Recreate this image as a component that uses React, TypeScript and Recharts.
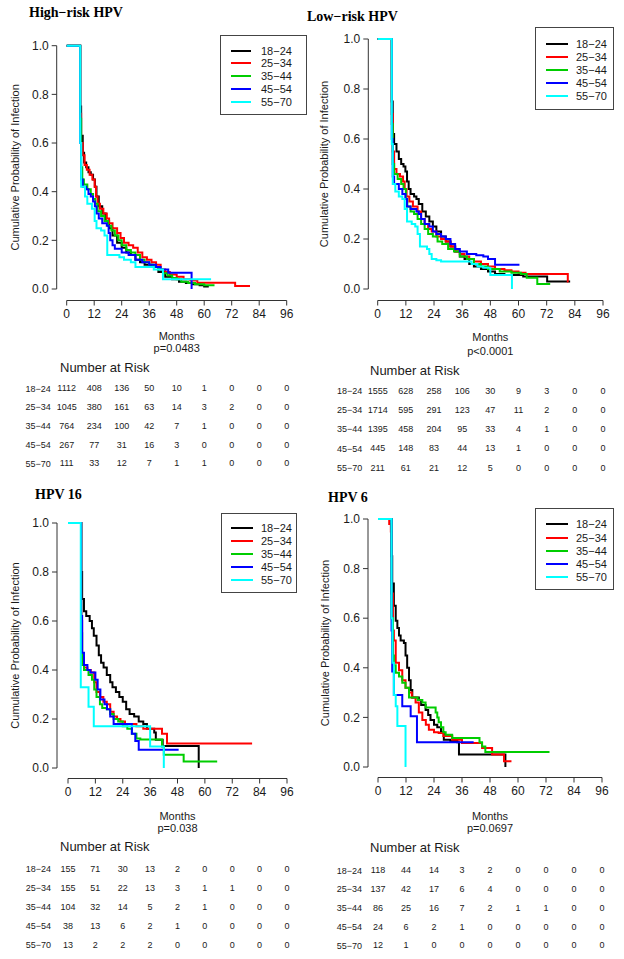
import React from 'react';
import { LineChart, Line, XAxis, YAxis, ReferenceLine, ScatterChart, Scatter } from 'recharts';

const groups = ['18−24', '25−34', '35−44', '45−54', '55−70'];
const colors = ['#000000', '#ff0000', '#00cd00', '#0000ff', '#00ffff'];
const monthTicks = [0, 12, 24, 36, 48, 60, 72, 84, 96];
const probTicks = [0, 0.2, 0.4, 0.6, 0.8, 1];

// curves as [month, cumulative probability], the value holds until the next point
const hr1824 = [[0, 1], [5.6, 1], [5.9, 0.75], [6.3, 0.63], [7, 0.56], [7.6, 0.52], [8.5, 0.5], [9.5, 0.48], [10.5, 0.47], [11.5, 0.45], [12.3, 0.42], [13, 0.38], [14, 0.34], [15.5, 0.31], [17, 0.28], [18.5, 0.25], [20, 0.22], [22, 0.19], [24, 0.17], [26, 0.15], [28, 0.14], [30, 0.12], [32, 0.11], [34, 0.1], [37, 0.09], [40, 0.07], [43, 0.05], [46, 0.04], [49, 0.03], [52, 0.025], [55, 0.02], [58, 0.015], [60, 0.01], [62, 0.01]];
const hr2534 = [[0, 1], [5.6, 1], [5.9, 0.72], [6.3, 0.6], [7, 0.55], [7.8, 0.51], [8.8, 0.49], [10, 0.47], [11.2, 0.45], [12.2, 0.42], [12.8, 0.38], [13.5, 0.35], [14.5, 0.33], [16, 0.31], [17.5, 0.29], [18.5, 0.27], [20, 0.25], [22, 0.23], [23.5, 0.21], [25, 0.19], [27, 0.18], [29, 0.17], [31, 0.15], [33, 0.13], [35, 0.12], [37, 0.11], [39, 0.1], [41, 0.08], [43, 0.07], [45, 0.06], [48, 0.05], [51, 0.04], [54, 0.035], [57, 0.026], [73.5, 0.012], [80, 0.012]];
const hr3544 = [[0, 1], [5.6, 1], [5.9, 0.7], [6.3, 0.5], [6.8, 0.45], [7.5, 0.43], [9, 0.41], [10.5, 0.39], [11.5, 0.37], [12.5, 0.35], [13.5, 0.32], [15, 0.3], [16.5, 0.28], [18, 0.26], [19.5, 0.24], [21, 0.22], [22.5, 0.2], [24, 0.18], [26, 0.16], [28, 0.15], [30, 0.14], [32, 0.12], [34, 0.11], [36, 0.1], [38, 0.09], [40, 0.08], [42, 0.065], [44, 0.055], [46, 0.045], [48, 0.04], [50, 0.03], [53, 0.025], [56, 0.02], [60, 0.015], [64.5, 0.015]];
const hr4554 = [[0, 1], [5.6, 1], [5.9, 0.6], [6.3, 0.45], [7, 0.42], [8.5, 0.41], [9.5, 0.39], [10.5, 0.38], [11.5, 0.36], [12.3, 0.34], [13, 0.31], [14, 0.29], [15.5, 0.27], [17.5, 0.26], [18.3, 0.23], [19, 0.2], [20, 0.18], [21, 0.165], [24, 0.15], [27, 0.14], [30, 0.12], [33, 0.11], [36, 0.1], [39, 0.09], [41, 0.08], [44.3, 0.067], [54.5, 0]];
const hr5570 = [[0, 1], [5.6, 1], [5.9, 0.6], [6.3, 0.42], [8, 0.38], [9, 0.35], [11, 0.33], [12.2, 0.28], [13, 0.25], [15, 0.24], [16.5, 0.22], [17.7, 0.14], [23, 0.13], [25, 0.12], [28, 0.11], [30, 0.09], [38, 0.08], [42, 0.04], [63, 0.04]];

const lr1824 = [[0, 1], [5.7, 1], [6, 0.75], [6.4, 0.62], [7, 0.58], [8, 0.55], [9, 0.52], [10, 0.5], [11, 0.49], [11.8, 0.47], [12.5, 0.43], [13.2, 0.4], [14, 0.38], [15.5, 0.37], [16.5, 0.36], [17.5, 0.34], [19, 0.31], [20.5, 0.29], [22, 0.27], [23.5, 0.25], [25, 0.23], [27, 0.21], [29, 0.19], [31, 0.17], [33, 0.15], [35, 0.13], [37, 0.12], [39, 0.1], [41, 0.09], [44, 0.08], [47, 0.07], [50, 0.06], [54, 0.056], [62, 0.05], [72.2, 0.03], [82, 0.03]];
const lr2534 = [[0, 1], [5.7, 1], [6, 0.7], [6.4, 0.55], [7, 0.48], [8, 0.46], [9.5, 0.45], [10.8, 0.43], [11.5, 0.4], [12.3, 0.37], [13.5, 0.35], [15, 0.33], [17, 0.31], [18.5, 0.28], [20, 0.26], [21.5, 0.24], [23, 0.23], [25, 0.21], [27, 0.2], [29, 0.19], [31, 0.17], [33, 0.15], [35, 0.14], [37, 0.13], [39, 0.12], [41, 0.11], [44, 0.1], [47, 0.09], [50, 0.08], [54, 0.075], [57, 0.07], [60, 0.065], [63, 0.06], [81, 0.03], [81.3, 0.03]];
const lr3544 = [[0, 1], [5.7, 1], [6, 0.66], [6.4, 0.5], [7, 0.46], [8.5, 0.44], [10, 0.42], [11, 0.4], [12, 0.36], [12.6, 0.33], [14, 0.31], [15.5, 0.3], [17, 0.28], [18.5, 0.26], [20, 0.24], [21.5, 0.22], [23.5, 0.21], [25.5, 0.19], [27.5, 0.18], [30, 0.16], [32.5, 0.15], [35, 0.13], [38, 0.12], [41, 0.1], [44, 0.09], [47, 0.08], [52, 0.07], [57, 0.065], [61, 0.06], [63.5, 0.045], [68, 0.02], [73.5, 0.02]];
const lr4554 = [[0, 1], [5.7, 1], [6, 0.6], [6.4, 0.45], [7, 0.42], [9, 0.4], [10.5, 0.38], [11.8, 0.36], [12.5, 0.33], [14, 0.32], [16.5, 0.31], [17.5, 0.3], [18.5, 0.28], [20, 0.26], [22, 0.25], [23.5, 0.23], [25, 0.22], [27, 0.21], [29, 0.2], [31, 0.18], [33, 0.16], [35, 0.15], [38, 0.14], [42, 0.135], [45, 0.13], [47, 0.12], [50, 0.097], [60.4, 0.097]];
const lr5570 = [[0, 1], [5.7, 1], [6, 0.58], [6.4, 0.42], [7.5, 0.39], [9, 0.37], [10.5, 0.36], [11.5, 0.32], [12.5, 0.27], [14.5, 0.26], [16, 0.25], [17, 0.22], [18, 0.17], [21, 0.16], [22, 0.14], [23, 0.12], [25, 0.115], [27, 0.11], [40, 0.1], [42.5, 0.09], [45, 0.085], [48, 0.056], [57.2, 0]];

const h16_1824 = [[0, 1], [5.5, 1], [5.8, 0.8], [6.2, 0.69], [7, 0.64], [8, 0.62], [9.5, 0.6], [10.5, 0.57], [11.3, 0.54], [12.5, 0.5], [13.5, 0.46], [14.5, 0.43], [15.6, 0.41], [17, 0.38], [18.5, 0.35], [19.5, 0.33], [21, 0.31], [22.5, 0.29], [24, 0.27], [25.5, 0.24], [27, 0.22], [29, 0.21], [31, 0.19], [33, 0.18], [34.6, 0.16], [37.8, 0.145], [38.5, 0.115], [41.5, 0.09], [57.3, 0]];
const h16_2534 = [[0, 1], [5.5, 1], [5.8, 0.6], [6.2, 0.45], [7, 0.41], [8.5, 0.4], [10, 0.39], [11.5, 0.35], [12.5, 0.31], [14, 0.29], [15.5, 0.27], [17, 0.26], [18.5, 0.23], [20, 0.21], [21.5, 0.2], [23, 0.19], [25, 0.18], [30, 0.17], [33, 0.16], [41.2, 0.14], [43.4, 0.1], [80.7, 0.1]];
const h16_3544 = [[0, 1], [5.5, 1], [5.8, 0.55], [6.2, 0.42], [7, 0.4], [9, 0.38], [10.5, 0.36], [11.5, 0.32], [12.5, 0.29], [14, 0.26], [15, 0.245], [17, 0.24], [18.5, 0.22], [20, 0.2], [22, 0.19], [24, 0.17], [26, 0.16], [28, 0.14], [30, 0.12], [31.7, 0.116], [41.2, 0.088], [42, 0.054], [50.7, 0.027], [65.4, 0.027]];
const h16_4554 = [[0, 1], [5.5, 1], [5.8, 0.62], [6.2, 0.47], [7, 0.42], [8.5, 0.4], [9.8, 0.39], [12, 0.36], [13, 0.32], [14.2, 0.28], [16, 0.26], [17.1, 0.24], [18.5, 0.21], [20, 0.18], [28, 0.14], [29.5, 0.11], [31, 0.075], [48.5, 0.075]];
const h16_5570 = [[0, 1], [5.5, 1], [5.6, 0.33], [9, 0.25], [11.3, 0.17], [36, 0.088], [42, 0]];

const h6_1824 = [[0, 1], [5.5, 1], [5.8, 0.85], [6.1, 0.74], [6.8, 0.65], [7.6, 0.59], [8.3, 0.56], [9, 0.53], [9.7, 0.51], [11.1, 0.5], [11.8, 0.45], [12.5, 0.4], [13.3, 0.35], [14, 0.31], [14.7, 0.28], [17.5, 0.27], [18.5, 0.25], [20.4, 0.23], [21.5, 0.21], [22.5, 0.19], [24, 0.17], [25.4, 0.16], [27, 0.14], [28.2, 0.11], [31, 0.105], [34, 0.1], [34.7, 0.05], [54.6, 0]];
const h6_2534 = [[0, 1], [4.8, 0.98], [5.5, 0.95], [5.8, 0.7], [6.4, 0.55], [6.8, 0.51], [7.6, 0.42], [9, 0.39], [10.4, 0.35], [11.8, 0.32], [13.3, 0.3], [14.5, 0.28], [16.1, 0.26], [17.5, 0.22], [19, 0.19], [20.5, 0.17], [21.8, 0.15], [24, 0.14], [26, 0.137], [28, 0.125], [31.8, 0.11], [36, 0.097], [44.6, 0.077], [48.9, 0.05], [54, 0.023], [57.2, 0.023]];
const h6_3544 = [[0, 1], [5.5, 1], [5.8, 0.6], [6.4, 0.45], [6.8, 0.41], [7.6, 0.38], [9, 0.365], [10.4, 0.34], [11.8, 0.32], [13.3, 0.28], [17, 0.27], [19, 0.26], [20.4, 0.24], [24.7, 0.22], [25.4, 0.2], [26, 0.18], [27, 0.16], [28, 0.14], [29, 0.13], [31.8, 0.117], [43.5, 0.1], [44.6, 0.083], [46, 0.06], [73.5, 0.06]];
const h6_4554 = [[0, 1], [5.5, 1], [5.8, 0.55], [6.1, 0.385], [6.8, 0.29], [10.4, 0.245], [14, 0.205], [16.7, 0.1], [41, 0.1]];
const h6_5570 = [[0, 1], [5.5, 1], [5.8, 0.6], [6.2, 0.42], [6.8, 0.29], [7.6, 0.245], [8.3, 0.165], [11.8, 0]];

// number at risk, rows follow groups, columns follow monthTicks
const hrRisk = [
  [1112, 408, 136, 50, 10, 1, 0, 0, 0],
  [1045, 380, 161, 63, 14, 3, 2, 0, 0],
  [764, 234, 100, 42, 7, 1, 0, 0, 0],
  [267, 77, 31, 16, 3, 0, 0, 0, 0],
  [111, 33, 12, 7, 1, 1, 0, 0, 0],
];
const lrRisk = [
  [1555, 628, 258, 106, 30, 9, 3, 0, 0],
  [1714, 595, 291, 123, 47, 11, 2, 0, 0],
  [1395, 458, 204, 95, 33, 4, 1, 0, 0],
  [445, 148, 83, 44, 13, 1, 0, 0, 0],
  [211, 61, 21, 12, 5, 0, 0, 0, 0],
];
const h16Risk = [
  [155, 71, 30, 13, 2, 0, 0, 0, 0],
  [155, 51, 22, 13, 3, 1, 1, 0, 0],
  [104, 32, 14, 5, 2, 1, 0, 0, 0],
  [38, 13, 6, 2, 1, 0, 0, 0, 0],
  [13, 2, 2, 2, 0, 0, 0, 0, 0],
];
const h6Risk = [
  [118, 44, 14, 3, 2, 0, 0, 0, 0],
  [137, 42, 17, 6, 4, 0, 0, 0, 0],
  [86, 25, 16, 7, 2, 1, 1, 0, 0],
  [24, 6, 2, 1, 0, 0, 0, 0, 0],
  [12, 1, 0, 0, 0, 0, 0, 0, 0],
];

const sans = '"Liberation Sans", Arial, sans-serif';
const serif = '"Liberation Serif", "Times New Roman", serif';
const ink = '#1a1a1a';

const toPts = (a: number[][]) => a.map(([t, s]) => ({ t, s }));

function Panel(p: any) {
  const { ox, oy, x0, x96, y0, y1, ax, ay } = p.g;
  const ppm = (x96 - x0) / 96;
  const ppu = y0 - y1;
  const padX = (x0 - ax) / ppm;
  const padY = (ay - y0) / ppu;
  const xDom = [-padX, 96 + padX];
  const yDom = [-padY, 1 + padY];
  const L = ax;
  const R = x96 + (x0 - ax);
  const T = y1 - (ay - y0);
  const B = ay;
  const yW = 40;
  const chartH = B - oy + 60;
  const margin = { top: T - oy, right: ox + 312 - R, bottom: 0, left: L - ox - yW };
  const midX = (x0 + x96) / 2 - ox;
  const labY = (T + B) / 2 - oy;
  const labX = p.yLabelX - ox;

  const tableTop = p.rowY0 - p.rowStep / 2;
  const cells = p.risk.flatMap((row: number[], r: number) =>
    row.map((n, c) => ({ t: monthTicks[c], row: r, n }))
  );

  return (
    <>
      <div style={{ position: 'absolute', left: ox, top: oy }}>
        <LineChart width={312} height={chartH} margin={margin}>
          <XAxis
            type="number"
            dataKey="t"
            domain={xDom}
            ticks={monthTicks}
            allowDataOverflow
            axisLine={false}
            tickSize={5}
            tickMargin={4}
            tickLine={{ stroke: '#333' }}
            tick={{ fontSize: 12, fill: ink, fontFamily: sans }}
            height={60}
            label={() => (
              <g>
                <text x={midX} y={p.monthsY - oy} textAnchor="middle" dominantBaseline="central" fontSize={11} fill={ink} fontFamily={sans}>Months</text>
                <text x={midX} y={p.pY - oy} textAnchor="middle" dominantBaseline="central" fontSize={11} fill={ink} fontFamily={sans}>{p.pText}</text>
              </g>
            )}
          />
          <YAxis
            type="number"
            domain={yDom}
            ticks={probTicks}
            allowDataOverflow
            width={yW}
            axisLine={false}
            tickSize={5}
            tickMargin={3}
            tickLine={{ stroke: '#333' }}
            tickFormatter={(v: number) => v.toFixed(1)}
            tick={{ fontSize: 12, fill: ink, fontFamily: sans }}
            label={() => (
              <text
                x={labX}
                y={labY}
                transform={`rotate(-90 ${labX} ${labY})`}
                textAnchor="middle"
                dominantBaseline="central"
                fontSize={11}
                fill={ink}
                fontFamily={sans}
              >
                Cumulative Probability of Infection
              </text>
            )}
          />
          <ReferenceLine segment={[{ x: 0, y: yDom[0] }, { x: 96, y: yDom[0] }]} stroke="#333" ifOverflow="visible" />
          <ReferenceLine segment={[{ x: xDom[0], y: 0 }, { x: xDom[0], y: 1 }]} stroke="#333" ifOverflow="visible" />
          {p.curves.map((c: number[][], i: number) => (
            <Line
              key={groups[i]}
              data={toPts(c)}
              dataKey="s"
              name={groups[i]}
              type="stepAfter"
              stroke={colors[i]}
              strokeWidth={2}
              dot={false}
              activeDot={false}
              isAnimationActive={false}
            />
          ))}
        </LineChart>
      </div>

      <div style={{ position: 'absolute', left: p.titleX, top: p.titleY - 9, fontFamily: serif, fontWeight: 'bold', fontSize: 14, lineHeight: '18px', color: '#000', whiteSpace: 'nowrap', zIndex: 2 }}>
        {p.title}
      </div>

      <div style={{ position: 'absolute', left: p.lg.x, top: p.lg.y, width: p.lg.w, height: p.lg.h, border: '1px solid #444', boxSizing: 'border-box', background: '#fff' }}>
        {groups.map((gname, i) => (
          <div key={gname} style={{ position: 'absolute', left: 0, top: p.lg.r0 - p.lg.y + i * p.lg.step - 7, height: 14, width: '100%' }}>
            <div style={{ position: 'absolute', left: p.lg.lx - p.lg.x, top: 6, width: p.lg.lw, height: 2, background: colors[i] }} />
            <div style={{ position: 'absolute', left: p.lg.tx - p.lg.x, top: 0, fontFamily: sans, fontSize: 11, lineHeight: '14px', color: ink }}>{gname}</div>
          </div>
        ))}
      </div>

      <div style={{ position: 'absolute', left: p.nrX, top: p.nrY - 8, fontFamily: sans, fontSize: 13, lineHeight: '16px', color: ink, whiteSpace: 'nowrap' }}>
        Number at Risk
      </div>
      <div style={{ position: 'absolute', left: ox, top: tableTop }}>
        <ScatterChart width={312} height={5 * p.rowStep} margin={{ top: 0, bottom: 0, left: L - ox - yW, right: ox + 312 - R }}>
          <XAxis type="number" dataKey="t" domain={xDom} allowDataOverflow hide />
          <YAxis
            type="number"
            dataKey="row"
            domain={[-0.5, 4.5]}
            reversed
            ticks={[0, 1, 2, 3, 4]}
            interval={0}
            width={yW}
            axisLine={false}
            tickLine={false}
            tickSize={0}
            tickMargin={6}
            tickFormatter={(v: number) => groups[v]}
            tick={{ fontSize: 9, fill: ink, fontFamily: sans }}
          />
          <Scatter
            data={cells}
            isAnimationActive={false}
            shape={(s: any) => (
              <text x={s.cx} y={s.cy} textAnchor="middle" dominantBaseline="central" fontSize={9} fill={ink} fontFamily={sans}>
                {s.payload.n}
              </text>
            )}
          />
        </ScatterChart>
      </div>
    </>
  );
}

export default function App() {
  return (
    <div style={{ position: 'absolute', left: 0, top: 0, width: 624, height: 959, background: '#fff', overflow: 'hidden' }}>
      <Panel
        title="High−risk HPV" titleX={29} titleY={12.5}
        g={{ ox: 0, oy: 0, x0: 66.7, x96: 286.7, y0: 289, y1: 45.7, ax: 56.7, ay: 300.5 }}
        curves={[hr1824, hr2534, hr3544, hr4554, hr5570]}
        risk={hrRisk} pText="p=0.0483" monthsY={336} pY={348} yLabelX={15}
        lg={{ x: 220, y: 34.7, w: 87, h: 80.5, r0: 49.7, step: 12.8, lx: 230, lw: 20, tx: 260 }}
        nrX={60} nrY={368} rowY0={388} rowStep={18.75}
      />
      <Panel
        title="Low−risk HPV" titleX={307} titleY={17}
        g={{ ox: 312, oy: 0, x0: 377.7, x96: 603, y0: 289, y1: 39, ax: 368.3, ay: 300.5 }}
        curves={[lr1824, lr2534, lr3544, lr4554, lr5570]}
        risk={lrRisk} pText="p<0.0001" monthsY={337} pY={351} yLabelX={324}
        lg={{ x: 534.7, y: 26.7, w: 79.5, h: 83.5, r0: 42.7, step: 13.1, lx: 545, lw: 22, tx: 575 }}
        nrX={370} nrY={371} rowY0={391} rowStep={19.25}
      />
      <Panel
        title="HPV 16" titleX={35} titleY={495}
        g={{ ox: 0, oy: 480, x0: 68, x96: 287, y0: 768, y1: 523, ax: 57, ay: 778.5 }}
        curves={[h16_1824, h16_2534, h16_3544, h16_4554, h16_5570]}
        risk={h16Risk} pText="p=0.038" monthsY={816} pY={828} yLabelX={15}
        lg={{ x: 221, y: 512.7, w: 76, h: 80.6, r0: 527.3, step: 13, lx: 230, lw: 22, tx: 260 }}
        nrX={60} nrY={847} rowY0={868} rowStep={19}
      />
      <Panel
        title="HPV 6" titleX={328} titleY={498}
        g={{ ox: 312, oy: 480, x0: 378, x96: 602, y0: 767, y1: 519, ax: 368, ay: 777.5 }}
        curves={[h6_1824, h6_2534, h6_3544, h6_4554, h6_5570]}
        risk={h6Risk} pText="p=0.0697" monthsY={816} pY={828} yLabelX={325}
        lg={{ x: 534.7, y: 508.3, w: 79.5, h: 81.7, r0: 523.3, step: 13.3, lx: 545, lw: 22, tx: 575 }}
        nrX={370} nrY={848} rowY0={870} rowStep={18.75}
      />
    </div>
  );
}
